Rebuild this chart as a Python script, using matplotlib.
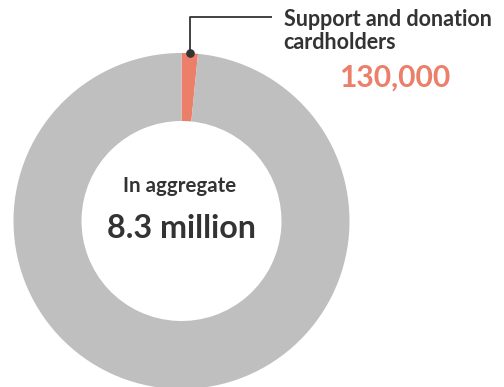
import matplotlib
matplotlib.use("Agg")
import matplotlib.pyplot as plt
import numpy as np

# values (in thousands of cardholders)
labels = ["Support and donation cardholders", "Other cardholders"]
values = [130, 8300 - 130]
colors = ["#EC7F6A", "#BFBFBF"]

total_label = "In aggregate"
total_value = "8.3 million"
highlight_value = "130,000"

W, H = 504, 387
TEXT = "#333333"

plt.rcParams["font.family"] = ["Lato", "DejaVu Sans"]

fig = plt.figure(figsize=(W / 100, H / 100), dpi=100)
ax = fig.add_axes([0, 0, 1, 1])

cx, cy, R, r = 181.5, H - 221, 168, 100
wedges, _ = ax.pie(values, colors=colors, startangle=90, counterclock=False,
                   radius=R, center=(cx, cy),
                   wedgeprops=dict(width=R - r, linewidth=0))
ax.set_xlim(0, W)
ax.set_ylim(0, H)
ax.set_aspect("equal")
ax.axis("off")

# leader line from the middle of the small wedge
mid = np.deg2rad(90 - 360 * values[0] / sum(values) / 2)
dx, dy = cx + R * np.cos(mid), cy + R * np.sin(mid)
elbow_y = H - 17.3
ax.plot([dx, dx, 271.7], [dy, elbow_y, elbow_y], color=TEXT, lw=1.3,
        solid_capstyle="butt", zorder=3)
ax.plot(dx, dy, "o", color=TEXT, ms=5.2, zorder=4)

ax.text(283.5, H - 26, "Support and donation", fontsize=15.5, fontweight="bold",
        color=TEXT, ha="left", va="baseline")
ax.text(283.5, H - 49, "cardholders", fontsize=15.5, fontweight="bold",
        color=TEXT, ha="left", va="baseline")
ax.text(339.5, H - 86.7, highlight_value, fontsize=21.6, fontweight="bold",
        color=colors[0], ha="left", va="baseline")

ax.text(180, H - 191.7, total_label, fontsize=14.8, fontweight="bold",
        color=TEXT, ha="center", va="baseline")
ax.text(181.5, H - 237.7, total_value, fontsize=23.2, fontweight="bold",
        color=TEXT, ha="center", va="baseline")

fig.savefig("out.png", dpi=100)
